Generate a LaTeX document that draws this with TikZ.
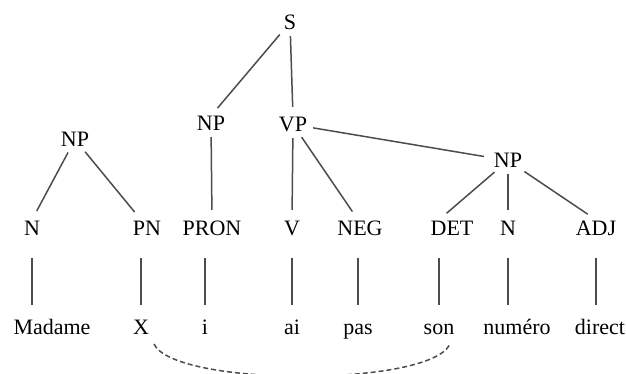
\documentclass[tikz,border=0pt]{standalone}
\usepackage{fontspec}
\setmainfont{Liberation Serif}
\usepackage{tikz}

\tikzset{
    lbl/.style={inner sep=0pt, text height=15pt, text depth=0pt, font=\fontsize{22}{26}\selectfont},
    branch/.style={draw=black!70, line width=1.5pt, shorten <=6pt, shorten >=10pt},
    stem/.style={draw=black!70, line width=1.5pt, shorten <=23pt, shorten >=14pt},
    link/.style={draw=black!70, line width=1.5pt, dash pattern=on 5pt off 3pt, shorten <=11pt, shorten >=11pt}
}

\begin{document}
\begin{tikzpicture}[x=1pt, y=-1pt]
        \useasboundingbox (0,0) rectangle (626,374);

        \node[lbl] (S) at (290,22.5) {S};
        \node[lbl] (NPa) at (75,139.5) {NP};
        \node[lbl] (NPb) at (211,123.5) {NP};
        \node[lbl] (VP) at (293,124.5) {VP};
        \node[lbl] (NPc) at (508,160.5) {NP};

        \node[lbl] (Na) at (32,227.5) {N};
        \node[lbl] (PN) at (147,227.5) {PN};
        \node[lbl] (PRON) at (212,227.5) {PRON};
        \node[lbl] (V) at (292,227.5) {V};
        \node[lbl] (NEG) at (360,227.5) {NEG};
        \node[lbl] (DET) at (452,227.5) {DET};
        \node[lbl] (Nb) at (508,227.5) {N};
        \node[lbl] (ADJ) at (596,227.5) {ADJ};

        \node[lbl] (madame) at (52,326.5) {Madame};
        \node[lbl] (X) at (141,326.5) {X};
        \node[lbl] (i) at (205,326.5) {i};
        \node[lbl] (ai) at (292,326.5) {ai};
        \node[lbl] (pas) at (358,326.5) {pas};
        \node[lbl] (son) at (439,326.5) {son};
        \node[lbl] (numero) at (517,326.5) {numéro};
        \node[lbl] (direct) at (600,326.5) {direct};

        % S -> NP VP
        \draw[branch] (S) -- (NPb.north);
        \draw[branch] (S) -- (VP.north);

        % NP -> N PN
        \draw[branch] (NPa) -- (Na.north);
        \draw[branch] (NPa) -- (PN.north -| X.north);

        % NP -> PRON
        \draw[branch] (NPb) -- (PRON.north);

        % VP -> V NEG NP
        \draw[branch] (VP) -- (V.north);
        \draw[branch] (VP) -- (NEG.north -| pas.north);
        \draw[branch] (VP) -- (NPc);

        % NP -> DET N ADJ
        \draw[branch] (NPc) -- (DET.north -| son.north);
        \draw[branch] (NPc) -- (Nb.north);
        \draw[branch] (NPc) -- (ADJ.north);

        % categories -> words
        \draw[stem] (Na.south) -- (Na.south |- madame.north);
        \draw[stem] (X.north |- PN.south) -- (X.north);
        \draw[stem] (i.north |- PRON.south) -- (i.north);
        \draw[stem] (V.south) -- (ai.north);
        \draw[stem] (pas.north |- NEG.south) -- (pas.north);
        \draw[stem] (son.north |- DET.south) -- (son.north);
        \draw[stem] (Nb.south) -- (Nb.south |- numero.north);
        \draw[stem] (ADJ.south) -- (ADJ.south |- direct.north);

        % X .. son
        \draw[link] (X.south east) .. controls (175,387) and (430,387) .. (son.south east);
    \end{tikzpicture}
\end{document}
